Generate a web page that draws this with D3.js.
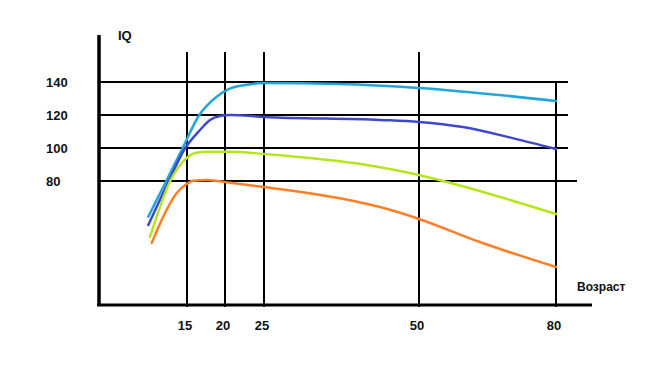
<!DOCTYPE html>
<html><head><meta charset="utf-8">
<script src="https://cdn.jsdelivr.net/npm/d3@7"></script>
<style>html,body{margin:0;padding:0;background:#fff}svg{display:block}</style>
</head><body><svg id="c" width="650" height="365"></svg>
<script>
// Data (ages on a hand-drawn, non-uniform axis)
const xTicks = [15, 20, 25, 50, 80];
const yTicks = [140, 120, 100, 80];
const cyanAges  = [9.91, 12.33, 14.3, 16.62, 18.91, 20.42, 22.56, 25, 37.3, 50, 80];
const cyanIQ    = [58.4, 80.6, 98.8, 120, 131.1, 135.6, 138.2, 139.4, 138.8, 136.4, 128.5];
const blueAges  = [9.91, 12.67, 14.61, 16.71, 18.03, 19.34, 20.64, 25, 43.7, 50, 59.6, 70.5, 80];
const blueIQ    = [53.3, 80.6, 98.8, 110.9, 117, 119.4, 120, 118.8, 117, 115.8, 112.7, 106, 99.4];
const greenAges = [10.13, 12.86, 14.96, 16.05, 17.59, 20.64, 25, 41.6, 50, 56.1, 80];
const greenIQ   = [46.1, 80.6, 93.9, 97, 97.8, 97.8, 96.4, 89.7, 83.6, 79.4, 60];
const orangeAges= [10.36, 11.88, 13.64, 14.96, 15.83, 17.59, 20.64, 25, 38.7, 43.7, 50, 63.3, 80];
const orangeIQ  = [42.4, 58.4, 72.7, 78.2, 80.2, 80.6, 79, 76.4, 68.5, 64.2, 57, 43, 27.9];
const seriesColors = ["#22a5da", "#3f48cc", "#b5e61d", "#ff7f27"];
const yLabel = "IQ";
const xLabel = "Возраст";

const svg = d3.select("#c");
const x = d3.scaleLinear().domain([10, 15, 20, 25, 50, 80]).range([149, 187, 225, 264, 419, 556]);
const y = d3.scaleLinear().domain([80, 140]).range([181, 82]);
const font = "'Liberation Sans', Arial, sans-serif";

// horizontal grid lines
const hEnd = {140: 568, 120: 568, 100: 568, 80: 577};
svg.selectAll("line.h").data(yTicks).join("line")
  .attr("x1", 99).attr("x2", d => hEnd[d])
  .attr("y1", d => y(d)).attr("y2", d => y(d))
  .attr("stroke", "#000").attr("stroke-width", 2);

// vertical grid lines
svg.selectAll("line.v").data(xTicks).join("line")
  .attr("x1", d => x(d)).attr("x2", d => x(d))
  .attr("y1", d => d === 80 ? y(140) : 52).attr("y2", 307)
  .attr("stroke", "#000").attr("stroke-width", 2);

// axes
svg.append("line").attr("x1", 99).attr("x2", 99).attr("y1", 35).attr("y2", 306)
  .attr("stroke", "#000").attr("stroke-width", 3.5);
svg.append("line").attr("x1", 97).attr("x2", 592).attr("y1", 305).attr("y2", 305)
  .attr("stroke", "#000").attr("stroke-width", 3);

// labels
svg.selectAll("text.yl").data(yTicks).join("text")
  .attr("x", 46).attr("y", d => y(d) + 5)
  .attr("font-family", font).attr("font-weight", "bold").attr("font-size", 13)
  .attr("fill", "#111").text(d => d);
svg.selectAll("text.xl").data(xTicks).join("text")
  .attr("x", d => x(d) - 2).attr("y", 330).attr("text-anchor", "middle")
  .attr("font-family", font).attr("font-weight", "bold").attr("font-size", 13)
  .attr("fill", "#111").text(d => d);
svg.append("text").attr("x", 118).attr("y", 40).text(yLabel)
  .attr("font-family", font).attr("font-weight", "bold").attr("font-size", 13).attr("fill", "#111");
svg.append("text").attr("x", 577).attr("y", 291).text(xLabel)
  .attr("font-family", font).attr("font-weight", "bold").attr("font-size", 12).attr("fill", "#111");

// curves
const series = [
  [cyanAges, cyanIQ], [blueAges, blueIQ], [greenAges, greenIQ], [orangeAges, orangeIQ]
];
const line = d3.line().x(d => x(d[0])).y(d => y(d[1])).curve(d3.curveMonotoneX);
series.forEach(([a, v], i) => {
  svg.append("path").datum(a.map((ag, j) => [ag, v[j]]))
    .attr("d", line).attr("fill", "none")
    .attr("stroke", seriesColors[i]).attr("stroke-width", 2.5)
    .attr("stroke-linecap", "round");
});
</script></body></html>
